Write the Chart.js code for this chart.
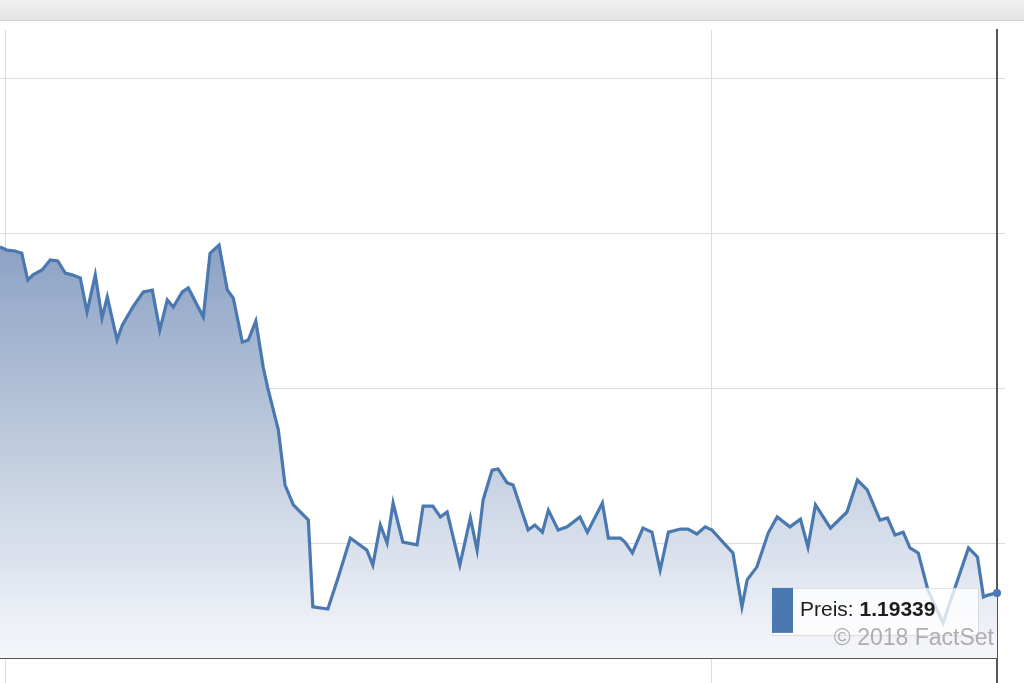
<!DOCTYPE html>
<html>
<head>
<meta charset="utf-8">
<script src="https://cdn.jsdelivr.net/npm/chart.js@4.4.1/dist/chart.umd.min.js"></script>
<style>
  html, body { margin: 0; padding: 0; background: #fff; }
  #wrap { position: relative; width: 1024px; height: 683px; overflow: hidden; }
  #topbar { position: absolute; left: 0; top: 0; width: 1024px; height: 20px;
    background: linear-gradient(#f0f0f0, #e4e4e4); border-bottom: 1px solid #d6d6d6; z-index: 2; }
  canvas { position: absolute; left: 0; top: 0; }
</style>
</head>
<body>
<div id="wrap">
  <div id="topbar"></div>
  <canvas id="chart" width="1024" height="683"></canvas>
</div>
<script>
// trading days since start of window, and EUR/USD price
const days = [0, 0.9, 2, 2.9, 3.7, 4.4, 5.6, 6.7, 7.7, 8.7, 9.6, 10.7, 11.6, 12.7, 13.6, 14.3, 15.6, 16.3, 17.7, 19.1,
  20.3, 21.3, 22.3, 23.1, 24.3, 25.1, 27.1, 28, 29.2, 30.3, 31.1, 32.3, 33.1, 34.1, 35.1, 35.7, 37.1, 38, 39.1, 41.1,
  41.7, 43.7, 45.1, 46.7, 48.9, 49.7, 50.7, 51.6, 52.4, 53.7, 55.6, 56.4, 57.7, 58.7, 59.6, 61.3, 62.7, 63.6, 64.4, 65.6,
  66.4, 67.6, 68.4, 70.4, 71.3, 72.3, 73.1, 74.4, 75.6, 77.3, 78.3, 80.3, 81.1, 82.7, 83.3, 84.3, 85.7, 86.9, 88, 89.1,
  90.7, 91.7, 92.9, 94, 94.9, 96.7, 97.7, 98.9, 99.6, 100.9, 102.4, 103.6, 105.3, 106.7, 107.7, 108.7, 110.7, 112.9, 114.3, 115.6,
  117.3, 118.3, 119.3, 120.4, 121.3, 122.4, 123.7, 125.7, 129.1, 130.3, 131.1, 131.7, 132.9]
const prices = [1.20455, 1.20445, 1.20442, 1.20435, 1.20348, 1.20365, 1.20381, 1.20413, 1.20410, 1.20371, 1.20365, 1.20355, 1.20245, 1.20365, 1.20226, 1.20294, 1.20155, 1.20203, 1.20261, 1.20310,
  1.20316, 1.20187, 1.20284, 1.20261, 1.20310, 1.20323, 1.20229, 1.20435, 1.20461, 1.20316, 1.20290, 1.20148, 1.20155, 1.20216, 1.20065, 1.20000, 1.19865, 1.19687, 1.19623, 1.19574,
  1.19294, 1.19287, 1.19390, 1.19516, 1.19477, 1.19429, 1.19558, 1.19500, 1.19629, 1.19503, 1.19494, 1.19619, 1.19619, 1.19584, 1.19600, 1.19429, 1.19581, 1.19477, 1.19639, 1.19735,
  1.19739, 1.19694, 1.19687, 1.19542, 1.19558, 1.19535, 1.19606, 1.19542, 1.19552, 1.19584, 1.19535, 1.19629, 1.19516, 1.19516, 1.19503, 1.19468, 1.19548, 1.19535, 1.19413, 1.19535,
  1.19545, 1.19545, 1.19529, 1.19552, 1.19542, 1.19494, 1.19468, 1.19294, 1.19381, 1.19423, 1.19532, 1.19584, 1.19552, 1.19577, 1.19487, 1.19623, 1.19548, 1.19600, 1.19703, 1.19671,
  1.19574, 1.19581, 1.19526, 1.19535, 1.19484, 1.19468, 1.19348, 1.19242, 1.19484, 1.19455, 1.19326, 1.19332, 1.19339]

const gridDays = [0.7, 94.8]
const yTicks = [1.195, 1.2, 1.205, 1.21]
const yMin = 1.19129
const yMax = 1.21155
const tipLabel = "Preis: "
const tipValue = "1.19339"
const watermark = "\u00a9 2018 FactSet"

const blue = "#4a78b0"
const last = prices.length - 1

function fillGradient(c){
    const area = c.chart.chartArea
    if(!area) return "rgba(150,170,200,0.6)"
    const top = c.chart.scales.y.getPixelForValue(Math.max(...prices))
    const g = c.chart.ctx.createLinearGradient(0, top, 0, area.bottom)
    g.addColorStop(0, "rgb(140,162,196)")
    g.addColorStop(0.5, "rgb(192,204,222)")
    g.addColorStop(1, "rgb(246,247,251)")
    return g
}

const overlay = {
    id: "overlay",
    afterDraw(chart){
        const ctx = chart.ctx
        const x = chart.scales.x
        const y = chart.scales.y
        // tooltip box near last point
        const bx = x.getPixelForValue(days[last]) - 225
        const by = y.getPixelForValue(prices[last]) - 5
        ctx.save()
        ctx.fillStyle = "rgba(255,255,255,0.78)"
        ctx.fillRect(bx, by, 206, 47)
        ctx.strokeStyle = "rgba(200,200,200,0.5)"
        ctx.lineWidth = 1
        ctx.strokeRect(bx + 0.5, by + 0.5, 206, 47)
        ctx.fillStyle = blue
        ctx.fillRect(bx, by, 21, 45)
        ctx.fillStyle = "#1e1e1e"
        ctx.textBaseline = "alphabetic"
        ctx.font = "21px 'Liberation Sans', Arial, sans-serif"
        ctx.fillText(tipLabel, bx + 28, by + 28)
        const w = ctx.measureText(tipLabel).width
        ctx.font = "bold 21px 'Liberation Sans', Arial, sans-serif"
        ctx.fillText(tipValue, bx + 28 + w, by + 28)
        // watermark
        ctx.fillStyle = "rgba(150,150,150,0.75)"
        ctx.font = "23px 'Liberation Sans', Arial, sans-serif"
        ctx.textAlign = "right"
        ctx.fillText(watermark, chart.chartArea.right - 3, by + 57)
        ctx.restore()
    }
}

const ctx = document.getElementById("chart").getContext("2d")
const chart = new Chart(ctx, {
    type: "line",
    data: {
        datasets: [
            {
                label: "Preis",
                data: days.map((d, i) => ({x: d, y: prices[i]})),
                borderColor: blue,
                borderWidth: 3.2,
                backgroundColor: fillGradient,
                fill: "start",
                tension: 0,
                pointRadius: c => c.dataIndex === last ? 4 : 0,
                pointBackgroundColor: blue,
                pointBorderWidth: 0,
                clip: false
            }
        ]
    },
    options: {
        responsive: false,
        animation: false,
        layout: {autoPadding: false, padding: {top: 30, right: 19, left: 0, bottom: 0}},
        plugins: {legend: {display: false}, tooltip: {enabled: false}},
        scales: {
            x: {
                type: "linear",
                min: 0,
                max: days[last],
                afterBuildTicks: s => { s.ticks = [...gridDays, days[last]].map(v => ({value: v})) },
                ticks: {display: false},
                grid: {
                    color: c => c.index === 2 ? "#555" : "#dcdcdc",
                    lineWidth: c => c.index === 2 ? 2 : 1,
                    tickLength: 25
                },
                border: {display: true, color: "#555", width: 2}
            },
            y: {
                position: "right",
                min: yMin,
                max: yMax,
                afterBuildTicks: s => { s.ticks = yTicks.map(v => ({value: v})) },
                ticks: {display: false},
                grid: {color: "#dcdcdc", lineWidth: 1, tickLength: 8},
                border: {display: true, color: "#555", width: 2}
            }
        }
    },
    plugins: [overlay]
})
</script>
</body>
</html>
